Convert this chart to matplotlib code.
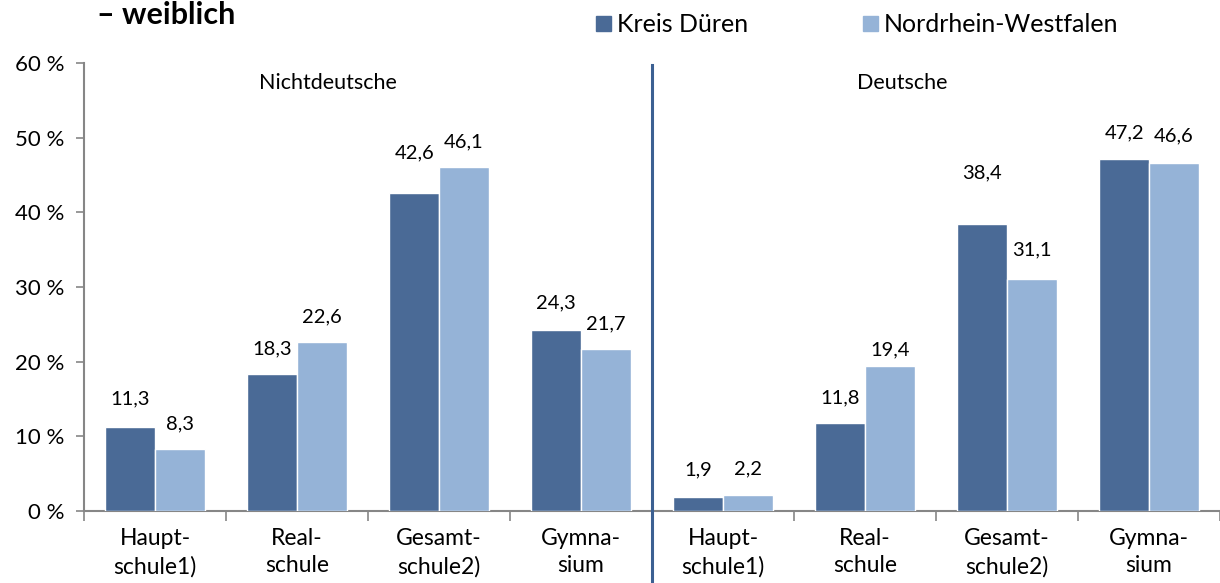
import matplotlib
matplotlib.use("Agg")
import matplotlib.pyplot as plt
from matplotlib.patches import Rectangle

plt.rcParams['font.family'] = ['Lato', 'DejaVu Sans']

categories = ["Haupt-\nschule1)", "Real-\nschule", "Gesamt-\nschule2)", "Gymna-\nsium",
              "Haupt-\nschule1)", "Real-\nschule", "Gesamt-\nschule2)", "Gymna-\nsium"]
kreis_dueren = [11.3, 18.3, 42.6, 24.3, 1.9, 11.8, 38.4, 47.2]
nrw = [8.3, 22.6, 46.1, 21.7, 2.2, 19.4, 31.1, 46.6]
yticks = [0, 10, 20, 30, 40, 50, 60]
group_labels = ["Nichtdeutsche", "Deutsche"]
series_names = ["Kreis Düren", "Nordrhein-Westfalen"]
title = "– weiblich"

# label nudges (extra vertical offset in % points) to mimic manual placement
extra_dy_dark = [0.3, 0, 2.0, 0.2, 0.2, 0, 3.5, 0]
extra_dy_light = [0, 0, 0, 0, 0, -1.2, 0.5, 0.3]

dark = "#4A6A96"
light = "#95B3D7"
axis_gray = "#868686"

fig = plt.figure(figsize=(12.2, 5.83), dpi=100)
ax = fig.add_axes([84/1220, 1 - 511/583, 1 - 84/1220, (511 - 63)/583])

x = list(range(len(categories)))
w = 0.35
ax.bar([i - w/2 for i in x], kreis_dueren, width=w, color=dark,
       edgecolor="white", linewidth=1.0, zorder=3)
ax.bar([i + w/2 for i in x], nrw, width=w, color=light,
       edgecolor="white", linewidth=1.0, zorder=3)

base = 3.4
for i in x:
    ax.text(i - w/2, kreis_dueren[i] + base + extra_dy_dark[i],
            f"{kreis_dueren[i]:.1f}".replace(".", ","),
            ha="center", va="center", fontsize=14.5, color="black")
    ax.text(i + w/2, nrw[i] + base + extra_dy_light[i],
            f"{nrw[i]:.1f}".replace(".", ","),
            ha="center", va="center", fontsize=14.5, color="black")

ax.set_xlim(-0.5, len(categories) - 0.5)
ax.set_ylim(0, 60)
ax.set_yticks(yticks)
ax.set_yticklabels([f"{t} %" for t in yticks], fontsize=16)
ax.set_xticks([i + 0.5 for i in range(-1, len(categories))], minor=False)
ax.set_xticklabels([])
ax.set_xticks(x, minor=True)
ax.set_xticklabels(categories, minor=True, fontsize=16.5, linespacing=1.4)
ax.tick_params(axis="x", which="minor", length=0, pad=12)
ax.tick_params(axis="x", which="major", length=7, color=axis_gray, width=1.2)
ax.tick_params(axis="y", length=6, color=axis_gray, width=1.2, pad=8)

for s in ["top", "right"]:
    ax.spines[s].set_visible(False)
for s in ["left", "bottom"]:
    ax.spines[s].set_color(axis_gray)
    ax.spines[s].set_linewidth(1.5)

# divider line
ax.plot([3.5, 3.5], [-10, 59.7], color="#3C6092", linewidth=2.2,
        clip_on=False, zorder=4)

ax.text(1.22, 57.3, group_labels[0], ha="center", va="center", fontsize=15.5)
ax.text(5.26, 57.3, group_labels[1], ha="center", va="center", fontsize=15.5)

fig.text(97/1220, 1 - 15/583, title, ha="left", va="center",
         fontsize=22, fontweight="bold")

# legend
for xs, col, name in [(596, dark, series_names[0]), (863, light, series_names[1])]:
    fig.patches.append(Rectangle((xs/1220, 1 - 31/583), 15/1220, 15/583,
                                 transform=fig.transFigure, color=col))
    fig.text((xs + 21)/1220, 1 - 24/583, name, ha="left", va="center", fontsize=18)

fig.savefig("out.png", dpi=100)
